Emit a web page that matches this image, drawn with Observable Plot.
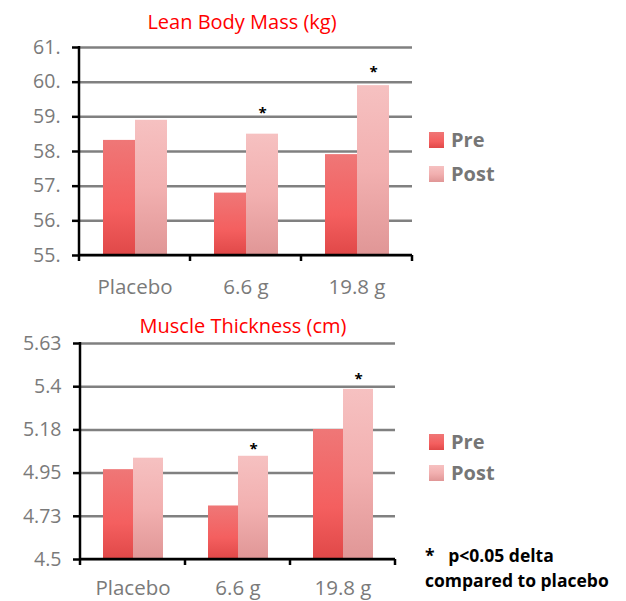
<!DOCTYPE html>
<html>
<head>
<meta charset="utf-8">
<script src="https://cdn.jsdelivr.net/npm/d3@7"></script>
<script src="https://cdn.jsdelivr.net/npm/@observablehq/plot@0.6"></script>
<style>
  html, body { margin: 0; padding: 0; background: #fff; }
  body { width: 626px; height: 601px; position: relative; overflow: hidden; font-family: "Open Sans", sans-serif; }
  .abs { position: absolute; }
  .title { color: #ff0000; font-size: 20px; line-height: 26px; width: 300px; text-align: center; white-space: nowrap; }
  .leg { font-weight: bold; font-size: 20px; color: #767676; line-height: 20px; display: flex; align-items: center; }
  .sw { width: 15px; height: 16px; margin-right: 7px; }
  .pre { background: linear-gradient(#ef7777, #f45f5f 60%, #e04848); }
  .post { background: linear-gradient(#f6c1c1, #f2b0b0 50%, #e09696); }
  .note { font-weight: bold; font-size: 17.5px; color: #000; white-space: pre; line-height: 25px; }
</style>
</head>
<body>
<div id="c1" class="abs" style="left:0;top:30px"></div>
<div id="c2" class="abs" style="left:0;top:320px"></div>
<div class="abs title" style="left:92px;top:9px">Lean Body Mass (kg)</div>
<div class="abs title" style="left:93px;top:313px">Muscle Thickness (cm)</div>
<div class="abs leg" style="left:429px;top:130px"><div class="sw pre"></div>Pre</div>
<div class="abs leg" style="left:429px;top:164px"><div class="sw post"></div>Post</div>
<div class="abs leg" style="left:429px;top:432px"><div class="sw pre"></div>Pre</div>
<div class="abs leg" style="left:429px;top:463px"><div class="sw post"></div>Post</div>
<div class="abs note" style="left:425px;top:543px">*   p&lt;0.05 delta
compared to placebo</div>
<script>
// ---- data ----
const categories = ["Placebo", "6.6 g", "19.8 g"];
const series = ["Pre", "Post"];

const lbmPre  = [58.32, 56.8, 57.91];
const lbmPost = [58.9, 58.5, 59.9];
const lbmStar = [null, 59.25, 60.42];          // position of the "*" marker
const lbmTicks = [55, 56, 57, 58, 59, 60, 61];
const lbmTickLabels = ["55.", "56.", "57.", "58.", "59.", "60.", "61."];

const mtPre  = [4.97, 4.78, 5.18];
const mtPost = [5.03, 5.04, 5.39];
const mtStar = [null, 5.105, 5.47];
const mtTicks = [4.5, 4.726, 4.952, 5.178, 5.404, 5.63];
const mtTickLabels = ["4.5", "4.73", "4.95", "5.18", "5.4", "5.63"];

const starText = "*";

function rowsOf(pre, post) {
  return categories.flatMap((c, i) => [
    {cat: c, series: "Pre", value: pre[i]},
    {cat: c, series: "Post", value: post[i]}
  ]);
}
function starsOf(star) {
  return categories.map((c, i) => ({cat: c, series: "Post", value: star[i]})).filter(d => d.value != null);
}

function makeChart(el, opts) {
  const {pre, post, star, ticks, labels, width, height, mt, mb, ml, mr, gid, fxPad} = opts;
  const rows = rowsOf(pre, post);
  const labelMap = new Map(ticks.map((t, i) => [t, labels[i]]));
  const ydom = [ticks[0], ticks[ticks.length - 1]];
  const chart = Plot.plot({
    width, height,
    marginTop: mt, marginBottom: mb, marginLeft: ml, marginRight: mr,
    style: {fontFamily: "'Open Sans', sans-serif", background: "transparent", overflow: "visible"},
    fx: {domain: categories, padding: 0, label: null},
    x: {domain: series, paddingInner: 0, paddingOuter: 0.72, axis: null},
    y: {domain: ydom},
    marks: [
      Plot.ruleY(ticks, {stroke: "#808080", strokeWidth: 2.5}),
      Plot.barY(rows, {
        fx: "cat", x: "series", y1: ydom[0], y2: "value",
        fill: d => d.series === "Pre" ? `url(#${gid}pre)` : `url(#${gid}post)`,
        inset: 0
      }),
      Plot.text(starsOf(star), {
        fx: "cat", x: "series", y: "value", text: () => starText,
        fill: "black", fontSize: 15, fontWeight: "bold", dy: 5
      }),
      Plot.axisY({
        ticks, tickFormat: d => labelMap.get(d), tickSize: 7, tickPadding: 12,
        stroke: "black", strokeWidth: 2.5, fill: "#7a7a7a", fontSize: 19.5, label: null
      }),
      Plot.axisFx({anchor: "bottom", tickSize: 0, tickPadding: fxPad, fill: "#7a7a7a", fontSize: 20.5, label: null})
    ]
  });
  // gradients
  const svg = d3.select(chart);
  const defs = svg.insert("defs", ":first-child");
  const g1 = defs.append("linearGradient").attr("id", gid + "pre").attr("x1", 0).attr("y1", 0).attr("x2", 0).attr("y2", 1);
  g1.append("stop").attr("offset", "0%").attr("stop-color", "#ef7777");
  g1.append("stop").attr("offset", "60%").attr("stop-color", "#f45f5f");
  g1.append("stop").attr("offset", "100%").attr("stop-color", "#e04848");
  const g2 = defs.append("linearGradient").attr("id", gid + "post").attr("x1", 0).attr("y1", 0).attr("x2", 0).attr("y2", 1);
  g2.append("stop").attr("offset", "0%").attr("stop-color", "#f6c1c1");
  g2.append("stop").attr("offset", "50%").attr("stop-color", "#f2b0b0");
  g2.append("stop").attr("offset", "100%").attr("stop-color", "#e09696");

  // axis lines & category boundary ticks from the plot's own scales
  const ys = chart.scale("y"), fxs = chart.scale("fx");
  const y0 = ys.apply(ydom[0]), y1 = ys.apply(ydom[1]);
  const xl = fxs.apply(categories[0]);
  const xr = fxs.apply(categories[categories.length - 1]) + fxs.bandwidth;
  const axg = svg.append("g").attr("stroke", "black").attr("stroke-width", 2.5);
  axg.append("line").attr("x1", xl).attr("x2", xl).attr("y1", y1 - 1).attr("y2", y0 + 6);
  axg.append("line").attr("x1", xl).attr("x2", xr).attr("y1", y0).attr("y2", y0);
  categories.forEach(c => {
    const x = fxs.apply(c) + fxs.bandwidth;
    axg.append("line").attr("x1", x).attr("x2", x).attr("y1", y0).attr("y2", y0 + 6);
  });
  el.appendChild(chart);
}

makeChart(document.getElementById("c1"), {
  pre: lbmPre, post: lbmPost, star: lbmStar, ticks: lbmTicks, labels: lbmTickLabels,
  width: 420, height: 275, mt: 17, mb: 50, ml: 78, mr: 8, gid: "a", fxPad: 24
});
makeChart(document.getElementById("c2"), {
  pre: mtPre, post: mtPost, star: mtStar, ticks: mtTicks, labels: mtTickLabels,
  width: 410, height: 281, mt: 23, mb: 42, ml: 79, mr: 14, gid: "b", fxPad: 21
});
</script>
</body>
</html>
